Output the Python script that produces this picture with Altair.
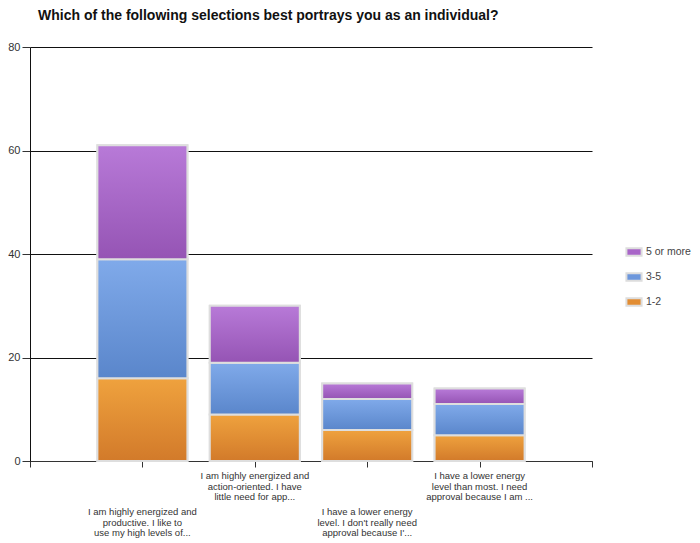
import altair as alt
import pandas as pd

categories = [
    "I am highly energized and\nproductive. I like to\nuse my high levels of...",
    "I am highly energized and\naction-oriented. I have\nlittle need for app...",
    "I have a lower energy\nlevel.  I don't really need\napproval because I'...",
    "I have a lower energy\nlevel than most.  I need\napproval because I am ...",
]
positions = [1, 2, 3, 4]
series = ["1-2", "3-5", "5 or more"]
values_1_2 = [16, 9, 6, 5]
values_3_5 = [23, 10, 6, 6]
values_5_more = [22, 11, 3, 3]
label_row = ["low", "high", "low", "high"]

series_values = {"1-2": values_1_2, "3-5": values_3_5, "5 or more": values_5_more}
solid = {"1-2": "#e28d33", "3-5": "#6d97dc", "5 or more": "#a865c8"}
grad = {
    "1-2": ("#efa23e", "#d27a2a"),
    "3-5": ("#80aaea", "#5a86cb"),
    "5 or more": ("#b87ad8", "#9554b4"),
}

rows = []
for i, pos in enumerate(positions):
    base = 0
    for s in series:
        v = series_values[s][i]
        rows.append({"pos": pos, "series": s, "y0": base, "y1": base + v})
        base += v
df = pd.DataFrame(rows)

labels_df = pd.DataFrame({"pos": positions, "label": categories, "row": label_row})

xscale = alt.Scale(domain=[0, 5], nice=False, zero=False, padding=0)
yscale = alt.Scale(domain=[0, 80], nice=False)

xaxis = alt.Axis(values=[0, 1, 2, 3, 4, 5], labels=False, title=None, grid=False,
                 tickSize=6, tickColor="#333", domainColor="#333")
yaxis = alt.Axis(values=[0, 20, 40, 60, 80], title=None, grid=True, gridColor="#111",
                 tickSize=8, tickColor="#333", domainColor="#111", labelFontSize=11,
                 labelColor="#333", labelFont="Liberation Sans", labelPadding=2)

base_bars = alt.Chart(df).mark_bar(size=90, stroke="#dedede", strokeWidth=2).encode(
    x=alt.X("pos:Q", scale=xscale, axis=xaxis),
    y=alt.Y("y0:Q", scale=yscale, axis=yaxis),
    y2="y1:Q",
    color=alt.Color(
        "series:N",
        scale=alt.Scale(domain=["5 or more", "3-5", "1-2"],
                        range=[solid["5 or more"], solid["3-5"], solid["1-2"]]),
        sort=["5 or more", "3-5", "1-2"],
        legend=alt.Legend(title=None, orient="none", legendX=595, legendY=196,
                          symbolType="M-1,-0.5H1V0.5H-1Z", symbolSize=230,
                          symbolStrokeColor="#dddddd", symbolStrokeWidth=2,
                          labelFontSize=10.5, labelColor="#444", labelFont="Liberation Sans",
                          rowPadding=8, labelOffset=3),
    ),
)

layers = [base_bars]
for s in series:
    top, bottom = grad[s]
    g = alt.Chart(df).transform_filter(alt.datum.series == s).mark_bar(
        size=90, stroke="#dedede", strokeWidth=2,
        fill=alt.Gradient(gradient="linear", x1=0, y1=0, x2=0, y2=1,
                          stops=[alt.GradientStop(color=top, offset=0),
                                 alt.GradientStop(color=bottom, offset=1)]),
    ).encode(x=alt.X("pos:Q", scale=xscale), y=alt.Y("y0:Q", scale=yscale), y2="y1:Q")
    layers.append(g)

text_style = dict(fontSize=9.5, font="Liberation Sans", color="#333", lineBreak="\n",
                  lineHeight=10.5, baseline="middle", align="center")
text_low = alt.Chart(labels_df).transform_filter(alt.datum.row == "low").mark_text(
    **text_style).encode(x=alt.X("pos:Q", scale=xscale), y=alt.value(465), text="label:N")
text_high = alt.Chart(labels_df).transform_filter(alt.datum.row == "high").mark_text(
    **text_style).encode(x=alt.X("pos:Q", scale=xscale), y=alt.value(429), text="label:N")

chart = alt.layer(*layers, text_low, text_high).properties(
    width=562, height=414,
    title=alt.TitleParams("Which of the following selections best portrays you as an individual?",
                          anchor="start", frame="group", fontSize=14, fontWeight="bold",
                          font="Liberation Sans", color="#111", offset=18, dx=8),
    autosize=alt.AutoSizeParams(type="none"),
    padding={"left": 22, "top": 39, "right": 100, "bottom": 80},
).configure_view(stroke=None)

chart.save("out.html", embed_options={"renderer": "svg", "actions": False})
